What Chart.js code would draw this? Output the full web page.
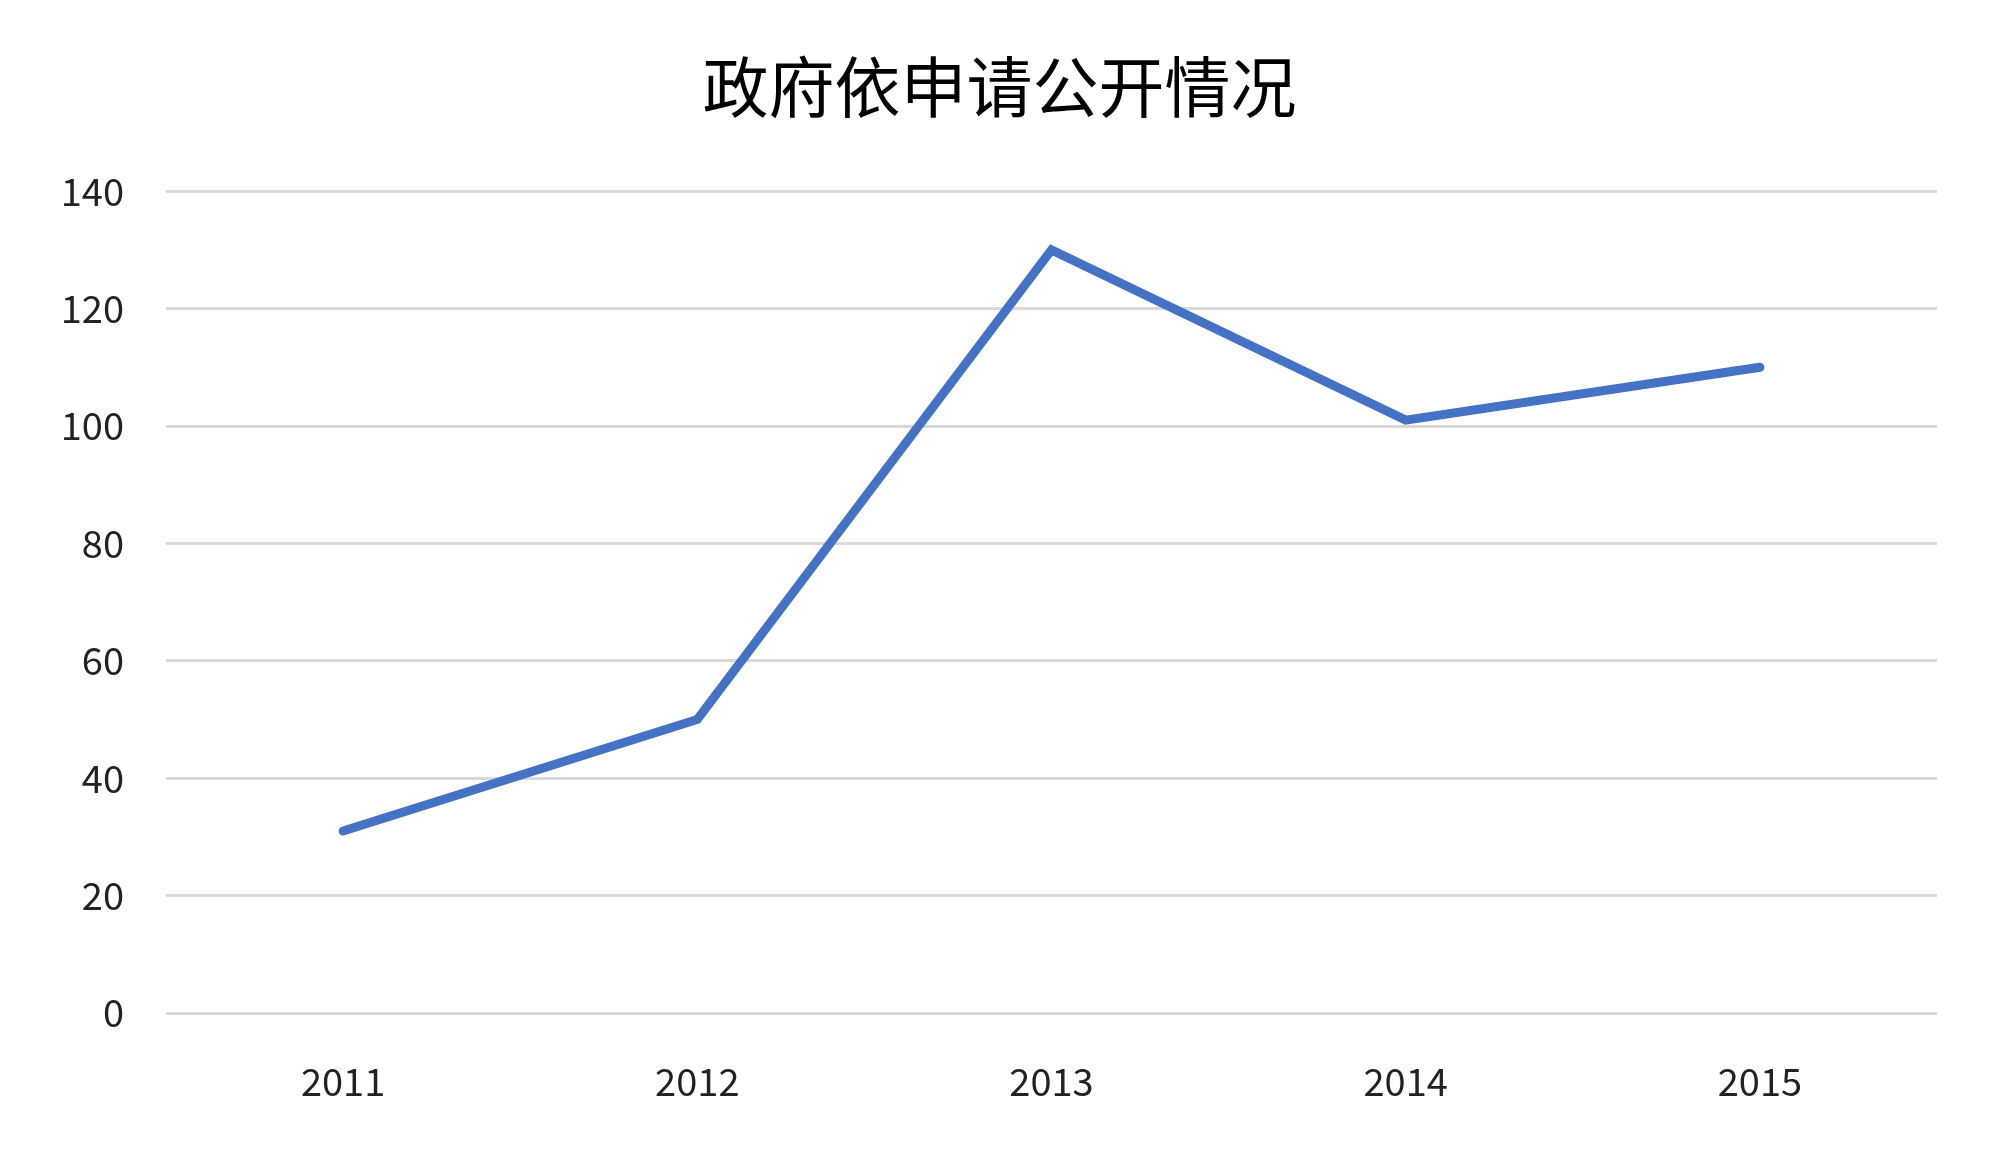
<!DOCTYPE html>
<html>
<head>
<meta charset="utf-8">
<script src="https://cdn.jsdelivr.net/npm/chart.js@4/dist/chart.umd.min.js"></script>
<style>
  html, body { margin: 0; padding: 0; background: #fff; }
  #wrap { width: 1999px; height: 1171px; }
</style>
</head>
<body>
<div id="wrap"><canvas id="lineChart" width="1999" height="1171"></canvas></div>
<script>
// --- DATA ---
const years = ['2011', '2012', '2013', '2014', '2015'];
const requests = [31, 50, 130, 101, 110];
const yTicks = [0, 20, 40, 60, 80, 100, 120, 140];
const chartTitle = '政府依申请公开情况';

const FONT = "'Noto Sans CJK SC', 'Noto Sans', sans-serif";

function renderChart() {
    const ctx = document.getElementById('lineChart').getContext('2d');
    new Chart(ctx, {
        type: 'line',
        data: {
            labels: years,
            datasets: [{
                label: chartTitle,
                data: requests,
                borderColor: '#4472C4',
                borderWidth: 9,
                borderCapStyle: 'round',
                tension: 0,
                fill: false,
                pointRadius: 0,
                pointHoverRadius: 0
            }]
        },
        options: {
            responsive: false,
            animation: false,
            layout: { padding: 0 },
            plugins: {
                legend: { display: false },
                tooltip: { enabled: false },
                title: {
                    display: true,
                    text: chartTitle,
                    color: '#000',
                    font: { family: FONT, size: 66, weight: 'normal', lineHeight: 1.2 },
                    padding: { top: 47, bottom: 65 }
                }
            },
            scales: {
                x: {
                    offset: true,
                    grid: { display: false, drawTicks: false },
                    border: { display: false },
                    ticks: { color: '#222', padding: 46, font: { family: FONT, size: 38 } },
                    afterFit: s => { s.height = 158; }
                },
                y: {
                    min: yTicks[0],
                    max: yTicks[yTicks.length - 1],
                    afterBuildTicks: s => { s.ticks = yTicks.map(v => ({ value: v })); },
                    grid: { color: '#d9d9d9', lineWidth: 3, drawTicks: false },
                    border: { display: false },
                    ticks: { color: '#222', padding: 42, font: { family: FONT, size: 38 } },
                    afterFit: s => { s.width = 166; }
                },
                // empty right margin so the title stays centred on the page
                yRight: {
                    position: 'right',
                    grid: { display: false, drawTicks: false },
                    border: { display: false },
                    ticks: { display: false },
                    afterFit: s => { s.width = 62; }
                }
            }
        }
    });
}

window.onload = renderChart;
</script>
</body>
</html>
